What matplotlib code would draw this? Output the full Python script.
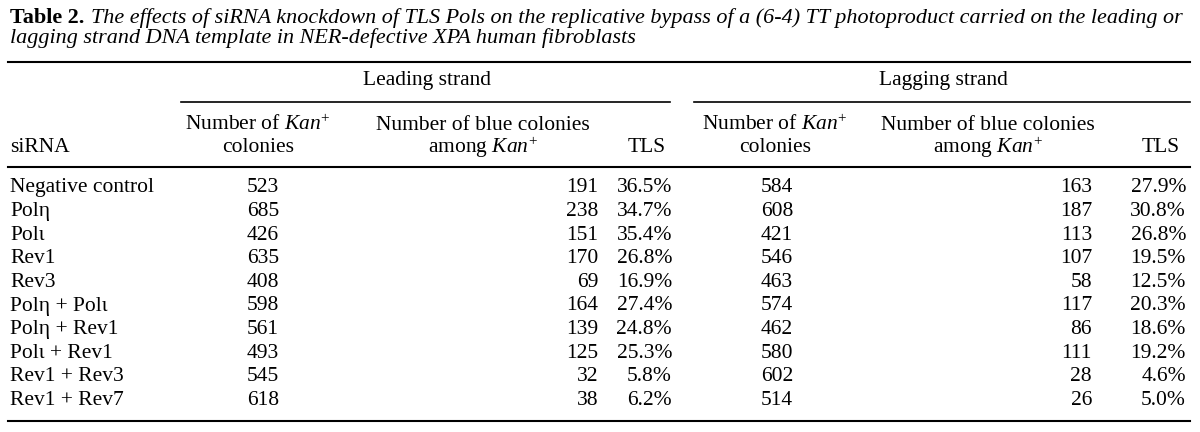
import matplotlib
matplotlib.use("Agg")
import matplotlib.pyplot as plt
from matplotlib.lines import Line2D

plt.rcParams['font.family'] = ['Liberation Serif', 'DejaVu Serif']
plt.rcParams['mathtext.fontset'] = 'custom'
plt.rcParams['mathtext.rm'] = 'Liberation Serif'
plt.rcParams['mathtext.it'] = 'Liberation Serif:italic'

# table content
title_label = "Table 2."
title_line1 = ("The effects of siRNA knockdown of TLS Pols on the replicative bypass "
               "of a (6-4) TT photoproduct carried on the leading or")
title_line2 = "lagging strand DNA template in NER-defective XPA human fibroblasts"

groups = ["Leading strand", "Lagging strand"]
sirna = ["Negative control", "Polη", "Polι", "Rev1", "Rev3",
         "Polη + Polι", "Polη + Rev1", "Polι + Rev1", "Rev1 + Rev3", "Rev1 + Rev7"]

lead_kan = [523, 685, 426, 635, 408, 598, 561, 493, 545, 618]
lead_blue = [191, 238, 151, 170, 69, 164, 139, 125, 32, 38]
lead_tls = ["36.5%", "34.7%", "35.4%", "26.8%", "16.9%", "27.4%", "24.8%", "25.3%", "5.8%", "6.2%"]

lag_kan = [584, 608, 421, 546, 463, 574, 462, 580, 602, 514]
lag_blue = [163, 187, 113, 107, 58, 117, 86, 111, 28, 26]
lag_tls = ["27.9%", "30.8%", "26.8%", "19.5%", "12.5%", "20.3%", "18.6%", "19.2%", "4.6%", "5.0%"]

W, H = 1200, 432
fig = plt.figure(figsize=(12, 4.32), dpi=100)
FS = 15.5
TFS = 15.9


def px(x, y):
    return x / W, 1 - y / H


def txt(x, y, s, ha="left", **kw):
    fx, fy = px(x, y)
    return fig.text(fx, fy, s, ha=ha, va="center", fontsize=kw.pop("fontsize", FS), **kw)


def rule(x0, x1, y, lw=1.2):
    (a, b), (c, d) = px(x0, y), px(x1, y)
    fig.add_artist(Line2D([a, c], [b, d], color="black", lw=lw, transform=fig.transFigure))


# title
r = fig.canvas.get_renderer()
t = txt(10, 18, title_label, fontweight="bold", fontsize=TFS)
bb = t.get_window_extent(r)
txt(bb.x1 + 7, 18, title_line1, style="italic", fontsize=TFS)
txt(10, 38, title_line2, style="italic", fontsize=TFS)

# rules
rule(8, 1190, 62, lw=1.5)
rule(181, 670, 102)
rule(694, 1190, 102)
rule(8, 1190, 167, lw=1.5)
rule(8, 1190, 421, lw=1.5)

# group headers
txt(427, 81, groups[0], ha="center")
txt(943, 81, groups[1], ha="center")

# column headers
kan = r"$\mathit{Kan}^{+}$"
txt(10, 147, "siRNA")
for off_kan, off_blue, off_tls in [(258, 483, 666), (775, 988, 1180)]:
    txt(off_kan, 125, "Number of " + kan, ha="center")
    txt(off_kan, 147, "colonies", ha="center")
    txt(off_blue, 125, "Number of blue colonies", ha="center")
    txt(off_blue, 147, "among " + kan, ha="center")
    txt(off_tls, 147, "TLS", ha="right")

# body rows
y0, dy = 188, 23.6
for i, name in enumerate(sirna):
    y = y0 + i * dy
    txt(10, y, name)
    txt(263, y, str(lead_kan[i]), ha="center")
    txt(598, y, str(lead_blue[i]), ha="right")
    txt(672, y, lead_tls[i], ha="right")
    txt(777, y, str(lag_kan[i]), ha="center")
    txt(1092, y, str(lag_blue[i]), ha="right")
    txt(1186, y, lag_tls[i], ha="right")

fig.savefig("out.png", dpi=100)
